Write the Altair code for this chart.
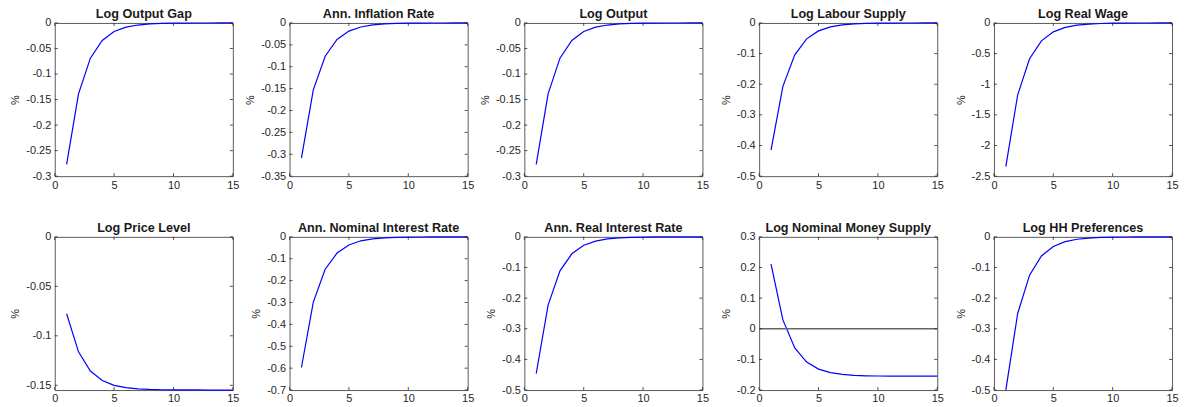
import altair as alt
import pandas as pd

# ---------------- data ----------------
t = list(range(1, 16))
x_ticks = [0, 5, 10, 15]

titles = [
    "Log Output Gap", "Ann. Inflation Rate", "Log Output", "Log Labour Supply", "Log Real Wage",
    "Log Price Level", "Ann. Nominal Interest Rate", "Ann. Real Interest Rate",
    "Log Nominal Money Supply", "Log HH Preferences",
]

output_gap = [-0.277, -0.1387, -0.069, -0.0342, -0.0168, -0.0083, -0.0041, -0.002, -0.001, -0.0005,
              -0.00025, -0.00012, -0.00006, -0.00003, -0.00001]
inflation = [-0.309, -0.153, -0.076, -0.0378, -0.0186, -0.0092, -0.0046, -0.0023, -0.0011, -0.0006,
             -0.0003, -0.00014, -0.00007, -0.00003, -0.00002]
log_output = [-0.277, -0.1387, -0.069, -0.0342, -0.0168, -0.0083, -0.0041, -0.002, -0.001, -0.0005,
              -0.00025, -0.00012, -0.00006, -0.00003, -0.00001]
labour = [-0.415, -0.207, -0.104, -0.052, -0.026, -0.013, -0.0065, -0.0032, -0.0016, -0.0008,
          -0.0004, -0.0002, -0.0001, -0.00005, -0.00002]
real_wage = [-2.345, -1.172, -0.585, -0.292, -0.146, -0.073, -0.036, -0.018, -0.009, -0.0045,
             -0.0022, -0.0011, -0.0006, -0.0003, -0.00014]
price_level = [-0.0777, -0.1162, -0.1356, -0.1452, -0.15, -0.1524, -0.1536, -0.1542, -0.1545, -0.1546,
               -0.1547, -0.1547, -0.1548, -0.1548, -0.1548]
nominal_rate = [-0.597, -0.298, -0.148, -0.074, -0.037, -0.018, -0.009, -0.0046, -0.0023, -0.0011,
                -0.0006, -0.0003, -0.00014, -0.00007, -0.00003]
real_rate = [-0.446, -0.2225, -0.111, -0.0553, -0.0276, -0.0138, -0.0069, -0.0034, -0.0017, -0.0009,
             -0.0004, -0.0002, -0.0001, -0.00005, -0.00003]
money = [0.2108, 0.029, -0.0624, -0.1085, -0.1317, -0.1432, -0.149, -0.1519, -0.1534, -0.1541,
         -0.1544, -0.1546, -0.1547, -0.1548, -0.1548]
hh_pref = [-0.5, -0.25, -0.125, -0.0625, -0.0313, -0.0156, -0.0078, -0.0039, -0.002, -0.001,
           -0.0005, -0.00024, -0.00012, -0.00006, -0.00003]

series = [output_gap, inflation, log_output, labour, real_wage,
          price_level, nominal_rate, real_rate, money, hh_pref]

y_ticks = [
    [-0.3, -0.25, -0.2, -0.15, -0.1, -0.05, 0],
    [-0.35, -0.3, -0.25, -0.2, -0.15, -0.1, -0.05, 0],
    [-0.3, -0.25, -0.2, -0.15, -0.1, -0.05, 0],
    [-0.5, -0.4, -0.3, -0.2, -0.1, 0],
    [-2.5, -2, -1.5, -1, -0.5, 0],
    [-0.15, -0.1, -0.05, 0],
    [-0.7, -0.6, -0.5, -0.4, -0.3, -0.2, -0.1, 0],
    [-0.5, -0.4, -0.3, -0.2, -0.1, 0],
    [-0.2, -0.1, 0, 0.1, 0.2, 0.3],
    [-0.5, -0.4, -0.3, -0.2, -0.1, 0],
]
y_domains = [
    [-0.3, 0], [-0.35, 0], [-0.3, 0], [-0.5, 0], [-2.5, 0],
    [-0.1548, 0], [-0.7, 0], [-0.5, 0], [-0.2, 0.3], [-0.5, 0],
]
zero_line_panels = ["Log Nominal Money Supply"]

# ---------------- styling ----------------
W, H = 179, 154
FONT = "Liberation Sans"
AX = "#262626"
BOX = "#5a5a5a"
TL = 3  # inward tick length


def panel(title, values, ticks, domain):
    xs = alt.Scale(domain=[0, 15], nice=False, zero=False)
    ys = alt.Scale(domain=domain, nice=False, zero=False)
    x_axis = alt.Axis(values=x_ticks, title=None, labelExpr="'' + datum.value")
    y_axis = alt.Axis(values=ticks, title="%", labelExpr="'' + datum.value")
    X = lambda: alt.X("t:Q", scale=xs, axis=x_axis)
    Y = lambda: alt.Y("v:Q", scale=ys, axis=y_axis)

    df = pd.DataFrame({"t": t, "v": values})
    layers = [
        alt.Chart(df).mark_line(color="#0000ff", strokeWidth=1.2).encode(x=X(), y=Y())
    ]
    if title in zero_line_panels:
        layers.append(
            alt.Chart(pd.DataFrame({"v": [0]})).mark_rule(color="#666666", strokeWidth=1.5)
            .encode(y=Y())
        )
    yt = pd.DataFrame({"v": ticks})
    xt = pd.DataFrame({"t": x_ticks})
    tick_style = dict(color=AX, strokeWidth=0.8)
    layers.append(alt.Chart(yt).mark_rule(**tick_style).encode(
        y=Y(), x=alt.value(0), x2=alt.value(TL)))
    layers.append(alt.Chart(yt).mark_rule(**tick_style).encode(
        y=Y(), x=alt.value(W - TL), x2=alt.value(W)))
    layers.append(alt.Chart(xt).mark_rule(**tick_style).encode(
        x=X(), y=alt.value(H), y2=alt.value(H - TL)))
    layers.append(alt.Chart(xt).mark_rule(**tick_style).encode(
        x=X(), y=alt.value(0), y2=alt.value(TL)))
    return alt.layer(*layers).properties(
        width=W, height=H,
        title=alt.TitleParams(text=title, anchor="middle", frame="group"),
    )


panels = [panel(ti, s, tk, dm) for ti, s, tk, dm in zip(titles, series, y_ticks, y_domains)]

chart = alt.concat(*panels, columns=5, spacing={"row": 61, "column": 57}).properties(
    bounds="flush",
    padding={"left": 1, "top": -2, "right": 0, "bottom": 0},
).configure_view(
    stroke=BOX, strokeWidth=1
).configure_axis(
    labelFont=FONT, labelFontSize=11, labelColor=AX, labelPadding=4,
    labelFlush=False, labelOverlap=False,
    titleFont=FONT, titleFontSize=11, titleFontWeight="normal", titleColor=AX, titlePadding=5,
    ticks=False, domain=False, grid=False,
).configure_axisX(
    labelPadding=3
).configure_title(
    font=FONT, fontSize=12.7, fontWeight="bold", color="#1a1a1a", offset=-3.5
)

chart.save("out.html", embed_options={"renderer": "svg", "actions": False})
